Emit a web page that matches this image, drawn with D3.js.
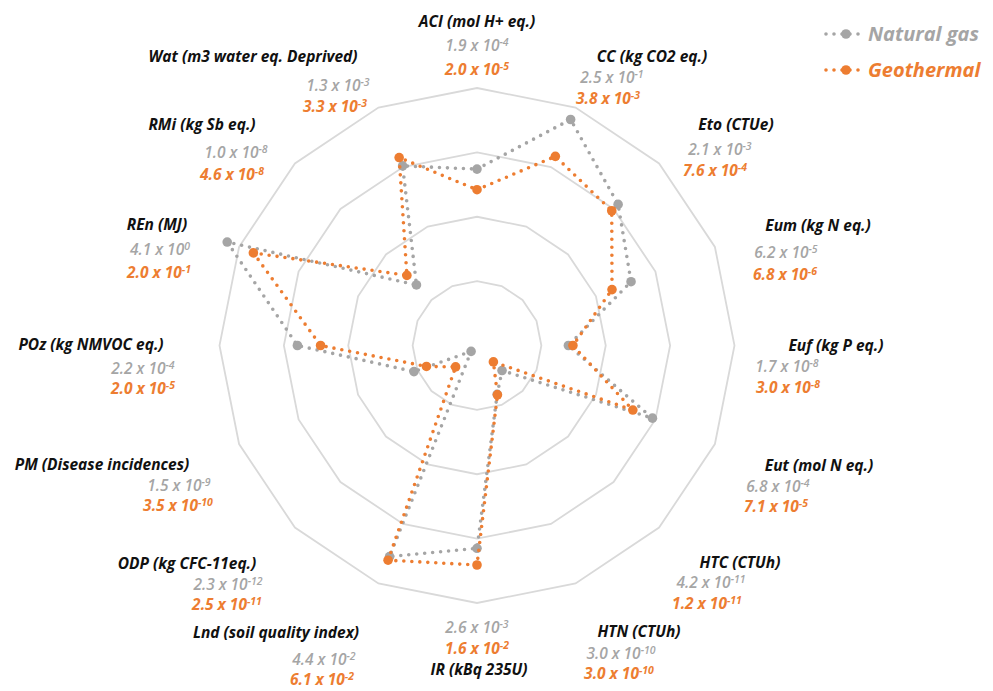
<!DOCTYPE html>
<html>
<head>
<meta charset="utf-8">
<script src="https://cdn.jsdelivr.net/npm/d3@7"></script>
<style>
  body { margin: 0; background: #fff; }
  svg { display: block; }
  .title { font-family: "Open Sans", Lato, sans-serif; font-style: italic; font-weight: bold; font-size: 15.5px; fill: #111; }
  .val { font-family: "Open Sans", Lato, sans-serif; font-style: italic; font-size: 15.5px; }
</style>
</head>
<body>
<div id="chart"></div>
<script>
// impact categories, clockwise from the top
const categories = ["ACI (mol H+ eq.)", "CC (kg CO2 eq.)", "Eto (CTUe)", "Eum (kg N eq.)",
  "Euf (kg P eq.)", "Eut (mol N eq.)", "HTC (CTUh)", "HTN (CTUh)", "IR (kBq 235U)",
  "Lnd (soil quality index)", "ODP (kg CFC-11eq.)", "PM (Disease incidences)",
  "POz (kg NMVOC eq.)", "REn (MJ)", "RMi (kg Sb eq.)", "Wat (m3 water eq. Deprived)"];

// printed impact values
const gasImpact = [1.9e-4, 2.5e-1, 2.1e-3, 6.2e-5, 1.7e-8, 6.8e-4, 4.2e-11, 3.0e-10,
  2.6e-3, 4.4e-2, 2.3e-12, 1.5e-9, 2.2e-4, 4.1e0, 1.0e-8, 1.3e-3];
const geoImpact = [2.0e-5, 3.8e-3, 7.6e-4, 6.8e-6, 3.0e-8, 7.1e-5, 1.2e-11, 3.0e-10,
  1.6e-2, 6.1e-2, 2.5e-11, 3.5e-10, 2.0e-5, 2.0e-1, 4.6e-8, 3.3e-3];

// plotted (normalised) scores on the radar
const gasScore = [2.74, 3.80, 3.10, 2.59, 1.42, 2.95, 0.55, 0.82, 3.15, 3.55, 0.13, 1.06, 2.79, 4.20, 1.33, 3.02];
const geoScore = [2.42, 3.18, 2.96, 2.27, 1.49, 2.62, 0.36, 0.83, 3.41, 3.61, 0.47, 0.85, 2.43, 3.76, 1.54, 3.16];

const seriesNames = ["Natural gas", "Geothermal"];
const gridLevels = [1, 2, 3, 4];

// label placement: title x,y / grey value x,y / orange value x,y (centres)
const labelLayout = [
  [477, 22, 477, 46, 477, 70],
  [652, 57, 612, 78, 608, 99],
  [736, 125, 720, 150, 715, 171],
  [818, 226, 786, 253, 785, 275],
  [836, 346, 787, 367, 788, 388],
  [819, 466, 778, 487, 776, 507],
  [740, 563, 711, 583, 707, 604],
  [639, 632, 621, 654, 619, 674],
  [479, 670, 477, 628, 477, 649],
  [276, 633, 324, 660, 322, 680],
  [187, 564, 228, 585, 227, 605],
  [102, 465, 179, 486, 178, 506],
  [91, 345, 143, 369, 143, 389],
  [157, 225, 160, 250, 159, 273],
  [202, 125, 236, 153, 232, 175],
  [253, 57, 338, 86, 335, 107]
];

const W = 993, H = 691;
const cx = 477, cy = 345.5;
const gray = "#a5a5a5", orange = "#ed7d31";

const svg = d3.select("#chart").append("svg")
  .attr("width", W).attr("height", H);

const r = d3.scaleLinear().domain([0, 4]).range([0, 257.5]);
const angle = d3.scaleLinear().domain([0, categories.length]).range([0, 2 * Math.PI]);

const g = svg.append("g").attr("transform", `translate(${cx},${cy})`);

// grid polygons
const ring = d3.lineRadial().curve(d3.curveLinearClosed);
gridLevels.forEach(function(lv) {
  g.append("path")
    .attr("d", ring(categories.map((c, i) => [angle(i), r(lv)])))
    .attr("fill", "none")
    .attr("stroke", "#d9d9d9")
    .attr("stroke-width", 1.8);
});

function drawSeries(scores, color) {
  const line = d3.lineRadial()
    .angle((d, i) => angle(i))
    .radius(d => r(d))
    .curve(d3.curveLinearClosed);
  g.append("path")
    .datum(scores)
    .attr("d", line)
    .attr("fill", "none")
    .attr("stroke", color)
    .attr("stroke-width", 3.6)
    .attr("stroke-linecap", "round")
    .attr("stroke-dasharray", "0 8");
  g.selectAll(null)
    .data(scores)
    .join("circle")
    .attr("cx", (d, i) => r(d) * Math.sin(angle(i)))
    .attr("cy", (d, i) => -r(d) * Math.cos(angle(i)))
    .attr("r", 4.8)
    .attr("fill", color);
}

drawSeries(gasScore, gray);
drawSeries(geoScore, orange);

// value text "m x 10^e"
function addValue(x, y, v, color, bold) {
  const parts = v.toExponential(1).split("e");
  const exp = String(parseInt(parts[1], 10));
  const t = svg.append("text")
    .attr("class", "val")
    .attr("x", x).attr("y", y + 5)
    .attr("text-anchor", "middle")
    .style("fill", color)
    .style("font-weight", bold ? "bold" : "600");
  t.append("tspan").text(parts[0] + " x 10");
  t.append("tspan").attr("dy", -5).style("font-size", "10.5px").text(exp);
}

categories.forEach(function(c, i) {
  const L = labelLayout[i];
  svg.append("text")
    .attr("class", "title")
    .attr("x", L[0]).attr("y", L[1] + 5)
    .attr("text-anchor", "middle")
    .text(c);
  addValue(L[2], L[3], gasImpact[i], gray, false);
  addValue(L[4], L[5], geoImpact[i], orange, true);
});

// legend
const legend = svg.append("g").attr("transform", "translate(825,34)");
[gray, orange].forEach(function(col, i) {
  const row = legend.append("g").attr("transform", `translate(0,${i * 36})`);
  row.append("line")
    .attr("x1", 1).attr("x2", 37)
    .attr("stroke", col)
    .attr("stroke-width", 3.6)
    .attr("stroke-linecap", "round")
    .attr("stroke-dasharray", "0 8");
  row.append("circle").attr("cx", 21).attr("r", 4.8).attr("fill", col);
  row.append("text")
    .attr("x", 43).attr("y", 7)
    .style("font-family", "'Open Sans', Lato, sans-serif")
    .style("font-style", "italic")
    .style("font-weight", "bold")
    .style("font-size", "20px")
    .style("fill", col)
    .text(seriesNames[i]);
});
</script>
</body>
</html>
